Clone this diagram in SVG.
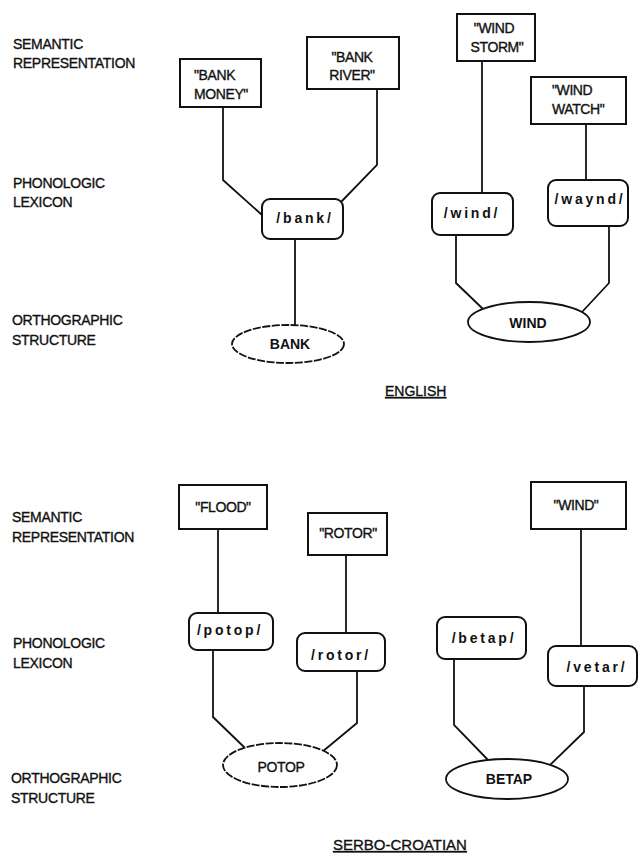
<svg xmlns="http://www.w3.org/2000/svg" width="638" height="856" viewBox="0 0 638 856">
<style>
  text { font-family: "Liberation Sans", Arial, sans-serif; fill: #111; }
  .lvl { font-size: 14px; letter-spacing: -0.3px; stroke: #111; stroke-width: 0.35px; }
  .sem { font-size: 14px; letter-spacing: -0.4px; stroke: #111; stroke-width: 0.35px; }
  .pho { font-size: 14px; font-weight: bold; letter-spacing: 2.8px; }
  .ort { font-size: 14px; font-weight: bold; }
  .ortr { font-size: 14px; letter-spacing: -0.4px; stroke: #111; stroke-width: 0.35px; }
  .lang { font-size: 14px; text-decoration: underline; stroke: #111; stroke-width: 0.35px; }
  .box { fill: #fff; stroke: #111; stroke-width: 2; }
  .rbox { fill: #fff; stroke: #111; stroke-width: 2; }
  .ell { fill: #fff; stroke: #111; stroke-width: 1.8; }
  .dash { stroke-dasharray: 8 1.5; }
  .conn { fill: none; stroke: #111; stroke-width: 1.8; }
</style>
<rect x="0" y="0" width="638" height="856" fill="#fff"/>

<g id="labels">
  <text class="lvl" x="13" y="49">SEMANTIC</text>
  <text class="lvl" x="13" y="68">REPRESENTATION</text>
  <text class="lvl" x="13" y="188">PHONOLOGIC</text>
  <text class="lvl" x="13" y="207">LEXICON</text>
  <text class="lvl" x="12" y="325">ORTHOGRAPHIC</text>
  <text class="lvl" x="12" y="345">STRUCTURE</text>
  <text class="lvl" x="12" y="522">SEMANTIC</text>
  <text class="lvl" x="12" y="542">REPRESENTATION</text>
  <text class="lvl" x="13" y="648">PHONOLOGIC</text>
  <text class="lvl" x="13" y="668">LEXICON</text>
  <text class="lvl" x="11" y="783">ORTHOGRAPHIC</text>
  <text class="lvl" x="11" y="803">STRUCTURE</text>
  <text class="lang" x="385" y="396">ENGLISH</text>
  <text class="lang" x="333" y="850" style="font-size:15px">SERBO-CROATIAN</text>
</g>

<g id="connectors">
  <polyline class="conn" points="223,107 223,180 262,215"/>
  <polyline class="conn" points="377,89 377,165 341,202"/>
  <polyline class="conn" points="295,239 295,325"/>
  <polyline class="conn" points="482,61 482,193"/>
  <polyline class="conn" points="586,124 586,180"/>
  <polyline class="conn" points="456,235 456,283 483,309"/>
  <polyline class="conn" points="609,226 609,283 582,312"/>
  <polyline class="conn" points="218,529 218,613"/>
  <polyline class="conn" points="213,650 213,717 245,748"/>
  <polyline class="conn" points="346,555 346,633"/>
  <polyline class="conn" points="357,671 357,723 322,752"/>
  <polyline class="conn" points="581,529 581,646"/>
  <polyline class="conn" points="454,659 454,725 490,762"/>
  <polyline class="conn" points="584,686 584,732 550,765"/>
</g>

<g id="sem-bank-money">
  <rect class="box" x="180" y="59" width="81" height="48"/>
  <text class="sem" x="194" y="80">"BANK</text>
  <text class="sem" x="194" y="99">MONEY"</text>
</g>
<g id="sem-bank-river">
  <rect class="box" x="307" y="37" width="92" height="52"/>
  <text class="sem" x="352" y="62" text-anchor="middle">"BANK</text>
  <text class="sem" x="352" y="80" text-anchor="middle">RIVER"</text>
</g>
<g id="sem-wind-storm">
  <rect class="box" x="457" y="14" width="78" height="47"/>
  <text class="sem" x="494" y="33" text-anchor="middle">"WIND</text>
  <text class="sem" x="497" y="52" text-anchor="middle">STORM"</text>
</g>
<g id="sem-wind-watch">
  <rect class="box" x="531" y="77" width="95" height="47"/>
  <text class="sem" x="552" y="95">"WIND</text>
  <text class="sem" x="552" y="114">WATCH"</text>
</g>

<g id="pho-bank">
  <rect class="rbox" x="262" y="199" width="81" height="40" rx="8"/>
  <text class="pho" x="305" y="223" text-anchor="middle">/bank/</text>
</g>
<g id="pho-wind">
  <rect class="rbox" x="432" y="193" width="81" height="42" rx="8"/>
  <text class="pho" x="472" y="218" text-anchor="middle">/wind/</text>
</g>
<g id="pho-waynd">
  <rect class="rbox" x="548" y="180" width="80" height="46" rx="8"/>
  <text class="pho" x="590" y="204" text-anchor="middle">/waynd/</text>
</g>

<g id="ort-bank">
  <ellipse class="ell dash" cx="288" cy="344" rx="56" ry="19"/>
  <text class="ort" x="290" y="349" text-anchor="middle">BANK</text>
</g>
<g id="ort-wind">
  <ellipse class="ell" cx="529" cy="322" rx="61" ry="20"/>
  <text class="ort" x="528" y="328" text-anchor="middle">WIND</text>
</g>

<g id="sem-flood">
  <rect class="box" x="179" y="485" width="88" height="44"/>
  <text class="sem" x="223" y="512" text-anchor="middle">"FLOOD"</text>
</g>
<g id="sem-rotor">
  <rect class="box" x="308" y="513" width="79" height="42"/>
  <text class="sem" x="348" y="538" text-anchor="middle">"ROTOR"</text>
</g>
<g id="sem-wind">
  <rect class="box" x="531" y="482" width="95" height="47"/>
  <text class="sem" x="576" y="510" text-anchor="middle">"WIND"</text>
</g>

<g id="pho-potop">
  <rect class="rbox" x="189" y="613" width="84" height="37" rx="8"/>
  <text class="pho" x="230" y="635" text-anchor="middle">/potop/</text>
</g>
<g id="pho-rotor">
  <rect class="rbox" x="297" y="633" width="88" height="38" rx="8"/>
  <text class="pho" x="341" y="660" text-anchor="middle">/rotor/</text>
</g>
<g id="pho-betap">
  <rect class="rbox" x="437" y="617" width="89" height="42" rx="8"/>
  <text class="pho" x="484" y="643" text-anchor="middle">/betap/</text>
</g>
<g id="pho-vetar">
  <rect class="rbox" x="548" y="646" width="89" height="40" rx="8"/>
  <text class="pho" x="597" y="672" text-anchor="middle">/vetar/</text>
</g>

<g id="ort-potop">
  <ellipse class="ell dash" cx="280" cy="765" rx="57" ry="22"/>
  <text class="ortr" x="281" y="772" text-anchor="middle">POTOP</text>
</g>
<g id="ort-betap">
  <ellipse class="ell" cx="507" cy="779" rx="61" ry="20"/>
  <text class="ort" x="509" y="784" text-anchor="middle">BETAP</text>
</g>
</svg>
